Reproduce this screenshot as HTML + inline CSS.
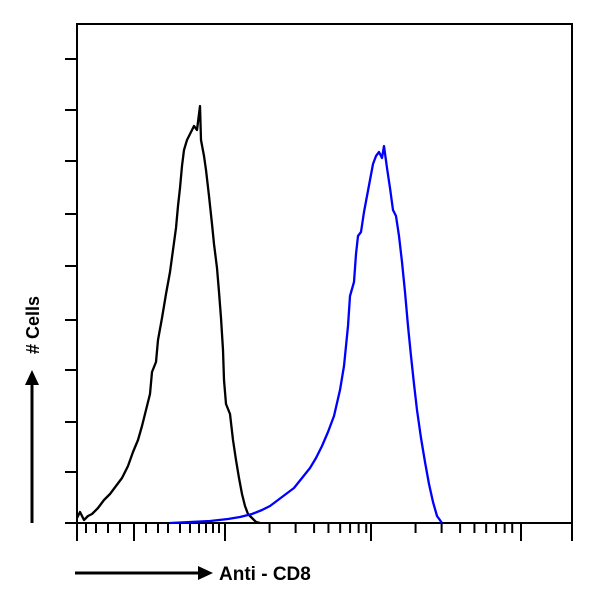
<!DOCTYPE html>
<html><head><style>body{margin:0;background:#fff}svg{display:block}</style></head><body>
<svg width="600" height="604" xmlns="http://www.w3.org/2000/svg">
<rect x="77" y="24" width="495" height="499" fill="none" stroke="#000" stroke-width="2"/>
<g stroke="#000" stroke-width="2">
<line x1="65" y1="59" x2="77" y2="59"/><line x1="65" y1="110" x2="77" y2="110"/><line x1="65" y1="161" x2="77" y2="161"/><line x1="65" y1="214" x2="77" y2="214"/><line x1="65" y1="266" x2="77" y2="266"/><line x1="65" y1="320" x2="77" y2="320"/><line x1="65" y1="370" x2="77" y2="370"/><line x1="65" y1="422" x2="77" y2="422"/><line x1="65" y1="472" x2="77" y2="472"/><line x1="65" y1="523" x2="77" y2="523"/>
</g>
<g stroke="#000" stroke-width="2" id="xt"></g>
<polyline fill="none" stroke="#000" stroke-width="2.3" stroke-linejoin="round" points="77,518 80,512 84,520 88,516 92,514 98,508 104,500 110,494 116,486 122,478 128,466 133,452 138,440 142,426 146,410 150,394 152,372 156,362 158,340 162,318 166,294 170,272 173,250 176,228 178,206 180,188 182,166 184,150 187,140 191,132 194,126 197,130 200,106 201,140 204,156 206,170 209,196 212,224 214,244 217,268 219,292 221,318 223,350 224,380 226,404 230,414 233,440 236,460 239,478 242,494 245,506 248,514 252,518 256,522 260,523"/>
<polyline fill="none" stroke="#0000ff" stroke-width="2.3" stroke-linejoin="round" points="170,523 190,522 210,521 228,519 240,517 252,514 262,510 270,506 278,500 286,494 294,488 302,478 310,468 316,458 322,446 328,432 334,416 340,390 344,366 348,326 350,296 354,282 356,254 358,236 361,232 364,212 367,196 370,180 373,164 376,156 379,152 382,158 384,146 387,168 390,188 393,210 396,216 399,236 402,262 405,292 408,326 411,356 414,384 417,410 421,438 425,462 429,484 433,502 437,516 442,523"/>
<line x1="32" y1="523" x2="32" y2="382" stroke="#000" stroke-width="3"/>
<polygon points="25,385 39,385 32,370" fill="#000"/>
<text transform="translate(39,325) rotate(-90)" text-anchor="middle" font-family="Liberation Sans, sans-serif" font-weight="bold" font-size="18">#&#160;Cells</text>
<line x1="75" y1="573" x2="200" y2="573" stroke="#000" stroke-width="3"/>
<polygon points="198,566 198,580 213,573" fill="#000"/>
<text x="219" y="580" font-family="Liberation Sans, sans-serif" font-weight="bold" font-size="19">Anti - CD8</text>
</svg>
<script>
var g=document.getElementById('xt'),s='';
function t(x,l){s+='<line x1="'+x+'" y1="523" x2="'+x+'" y2="'+(523+l)+'"/>';}
[77,134,225,371,521,572].forEach(function(x){t(x,18);});
[86,96,108,120,146,158,168,180,190,199,206,213,219].forEach(function(x){t(x,10);});
[225,371].forEach(function(b){for(var i=2;i<10;i++){t(b+148*Math.log10(i),10);}});
g.innerHTML=s;
</script>
</body></html>
